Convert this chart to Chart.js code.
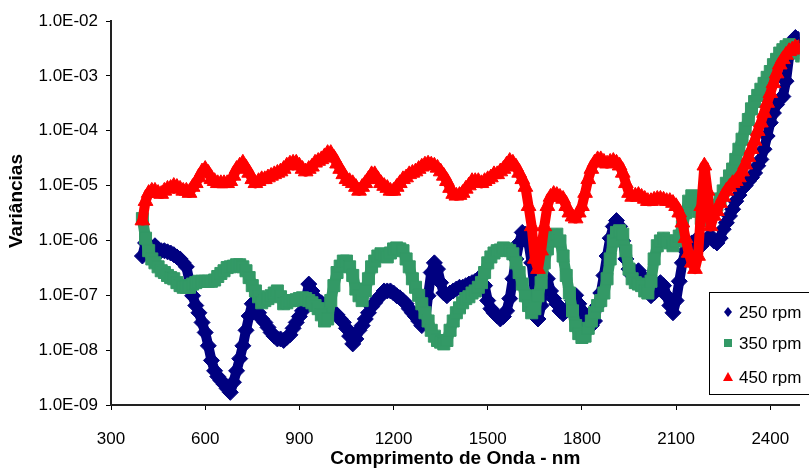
<!DOCTYPE html>
<html>
<head>
<meta charset="utf-8">
<title>Variâncias x Comprimento de Onda</title>
<script src="https://cdn.jsdelivr.net/npm/chart.js@4.4.1/dist/chart.umd.min.js"></script>
<style>
  html, body { margin: 0; padding: 0; background: #fff; }
  #wrap { width: 809px; height: 468px; }
</style>
</head>
<body>
<div id="wrap"><canvas id="varChart" width="809" height="468"></canvas></div>
<script>
// Wavelengths (nm), one reading every 10 nm
const wavelengthNm = [
    400, 410, 420, 430, 440, 450, 460, 470, 480, 490,
    500, 510, 520, 530, 540, 550, 560, 570, 580, 590,
    600, 610, 620, 630, 640, 650, 660, 670, 680, 690,
    700, 710, 720, 730, 740, 750, 760, 770, 780, 790,
    800, 810, 820, 830, 840, 850, 860, 870, 880, 890,
    900, 910, 920, 930, 940, 950, 960, 970, 980, 990,
    1000, 1010, 1020, 1030, 1040, 1050, 1060, 1070, 1080, 1090,
    1100, 1110, 1120, 1130, 1140, 1150, 1160, 1170, 1180, 1190,
    1200, 1210, 1220, 1230, 1240, 1250, 1260, 1270, 1280, 1290,
    1300, 1310, 1320, 1330, 1340, 1350, 1360, 1370, 1380, 1390,
    1400, 1410, 1420, 1430, 1440, 1450, 1460, 1470, 1480, 1490,
    1500, 1510, 1520, 1530, 1540, 1550, 1560, 1570, 1580, 1590,
    1600, 1610, 1620, 1630, 1640, 1650, 1660, 1670, 1680, 1690,
    1700, 1710, 1720, 1730, 1740, 1750, 1760, 1770, 1780, 1790,
    1800, 1810, 1820, 1830, 1840, 1850, 1860, 1870, 1880, 1890,
    1900, 1910, 1920, 1930, 1940, 1950, 1960, 1970, 1980, 1990,
    2000, 2010, 2020, 2030, 2040, 2050, 2060, 2070, 2080, 2090,
    2100, 2110, 2120, 2130, 2140, 2150, 2160, 2170, 2180, 2190,
    2200, 2210, 2220, 2230, 2240, 2250, 2260, 2270, 2280, 2290,
    2300, 2310, 2320, 2330, 2340, 2350, 2360, 2370, 2380, 2390,
    2400, 2410, 2420, 2430, 2440, 2450, 2460, 2470, 2480, 2490,
    2500
];

// Variance at 250 rpm
const var250 = [
    5.2e-7, 9.0e-7, 8.0e-7, 7.3e-7, 8.0e-7, 7.0e-7, 6.5e-7, 6.5e-7, 6.2e-7, 5.9e-7,
    5.5e-7, 5.0e-7, 4.6e-7, 3.9e-7, 3.3e-7, 1.8e-7, 9.8e-8, 6.5e-8, 4.8e-8, 3.2e-8,
    2.1e-8, 1.2e-8, 6.5e-9, 4.2e-9, 3.3e-9, 2.8e-9, 2.4e-9, 2.0e-9, 1.7e-9, 2.6e-9,
    4.2e-9, 7.0e-9, 1.2e-8, 2.3e-8, 4.2e-8, 7.0e-8, 6.5e-8, 4.8e-8, 3.7e-8, 3.2e-8,
    2.6e-8, 2.1e-8, 1.8e-8, 1.6e-8, 1.6e-8, 1.5e-8, 1.7e-8, 1.9e-8, 2.5e-8, 3.2e-8,
    4.1e-8, 5.2e-8, 8.0e-8, 1.6e-7, 1.2e-7, 9.0e-8, 8.0e-8, 7.3e-8, 6.5e-8, 5.9e-8,
    5.2e-8, 4.8e-8, 4.4e-8, 3.7e-8, 3.2e-8, 2.5e-8, 1.8e-8, 1.3e-8, 1.6e-8, 2.3e-8,
    2.8e-8, 3.7e-8, 4.8e-8, 6.2e-8, 7.3e-8, 8.7e-8, 1.0e-7, 1.2e-7, 1.2e-7, 1.2e-7,
    1.1e-7, 9.8e-8, 9.0e-8, 8.0e-8, 7.0e-8, 5.7e-8, 4.8e-8, 4.1e-8, 3.4e-8, 2.8e-8,
    3.2e-8, 9.8e-8, 2.6e-7, 3.9e-7, 3.0e-7, 1.7e-7, 1.1e-7, 9.8e-8, 1.1e-7, 1.2e-7,
    1.3e-7, 1.4e-7, 1.4e-7, 1.5e-7, 1.6e-7, 1.7e-7, 1.8e-7, 2.0e-7, 2.1e-7, 1.5e-7,
    8.0e-8, 5.7e-8, 4.8e-8, 4.2e-8, 3.7e-8, 4.1e-8, 5.2e-8, 8.7e-8, 2.0e-7, 4.6e-7,
    9.0e-7, 1.4e-6, 1.3e-6, 9.0e-7, 3.9e-7, 1.1e-7, 3.7e-8, 6.5e-8, 1.8e-7, 2.0e-7,
    1.2e-7, 8.7e-8, 7.0e-8, 5.2e-8, 4.6e-8, 5.2e-8, 6.2e-8, 8.0e-8, 1.0e-7, 7.0e-8,
    5.2e-8, 3.7e-8, 2.8e-8, 2.8e-8, 3.4e-8, 6.5e-8, 1.1e-7, 2.3e-7, 5.2e-7, 1.1e-6,
    1.8e-6, 2.3e-6, 1.8e-6, 9.8e-7, 4.6e-7, 3.0e-7, 2.3e-7, 2.6e-7, 2.8e-7, 2.3e-7,
    1.7e-7, 1.2e-7, 9.8e-8, 1.1e-7, 1.5e-7, 1.7e-7, 1.5e-7, 9.8e-8, 6.5e-8, 4.8e-8,
    8.0e-8, 1.8e-7, 3.9e-7, 6.5e-7, 8.0e-7, 9.0e-7, 9.8e-7, 9.0e-7, 8.0e-7, 9.8e-7,
    1.1e-6, 1.2e-6, 9.8e-7, 9.0e-7, 1.1e-6, 1.6e-6, 2.1e-6, 2.8e-6, 3.7e-6, 5.2e-6,
    6.7e-6, 8.7e-6, 1.0e-5, 1.2e-5, 1.4e-5, 1.7e-5, 2.3e-5, 3.0e-5, 4.6e-5, 8.0e-5,
    1.4e-4, 2.1e-4, 3.0e-4, 3.7e-4, 4.2e-4, 8.0e-4, 2.3e-3, 4.2e-3, 5.0e-3, 4.6e-3,
    3.9e-3
];

// Variance at 350 rpm
const var350 = [
    2.5e-6, 1.1e-6, 6.5e-7, 4.6e-7, 3.9e-7, 3.3e-7, 2.8e-7, 2.6e-7, 2.3e-7, 2.1e-7,
    2.0e-7, 1.7e-7, 1.5e-7, 1.4e-7, 1.4e-7, 1.4e-7, 1.6e-7, 1.7e-7, 1.8e-7, 1.8e-7,
    1.8e-7, 1.8e-7, 1.8e-7, 1.9e-7, 2.2e-7, 2.5e-7, 2.8e-7, 3.2e-7, 3.3e-7, 3.4e-7,
    3.6e-7, 3.6e-7, 3.3e-7, 2.8e-7, 2.1e-7, 1.5e-7, 1.2e-7, 9.4e-8, 7.3e-8, 8.0e-8,
    8.7e-8, 9.8e-8, 1.1e-7, 1.2e-7, 9.4e-8, 7.0e-8, 7.3e-8, 8.0e-8, 8.0e-8, 8.3e-8,
    8.7e-8, 9.0e-8, 8.7e-8, 8.0e-8, 7.3e-8, 6.5e-8, 5.7e-8, 4.4e-8, 3.4e-8, 3.7e-8,
    8.0e-8, 1.5e-7, 2.6e-7, 3.4e-7, 4.2e-7, 4.2e-7, 3.3e-7, 2.3e-7, 1.3e-7, 9.8e-8,
    8.0e-8, 1.2e-7, 2.0e-7, 3.3e-7, 4.2e-7, 5.2e-7, 5.7e-7, 5.5e-7, 5.0e-7, 5.9e-7,
    7.0e-7, 7.3e-7, 7.0e-7, 6.5e-7, 4.6e-7, 3.3e-7, 2.0e-7, 1.4e-7, 1.0e-7, 7.0e-8,
    4.8e-8, 3.4e-8, 2.3e-8, 1.8e-8, 1.5e-8, 1.4e-8, 1.3e-8, 1.5e-8, 2.3e-8, 3.4e-8,
    4.8e-8, 5.9e-8, 7.3e-8, 8.7e-8, 9.4e-8, 1.1e-7, 1.2e-7, 1.4e-7, 1.7e-7, 2.6e-7,
    3.9e-7, 5.0e-7, 5.9e-7, 6.5e-7, 6.7e-7, 7.3e-7, 7.0e-7, 6.5e-7, 5.7e-7, 3.9e-7,
    2.6e-7, 1.6e-7, 9.8e-8, 6.5e-8, 4.8e-8, 5.7e-8, 9.8e-8, 1.7e-7, 3.9e-7, 7.0e-7,
    9.8e-7, 1.2e-6, 1.3e-6, 9.8e-7, 5.2e-7, 2.3e-7, 1.1e-7, 5.2e-8, 2.8e-8, 2.0e-8,
    1.7e-8, 1.8e-8, 2.5e-8, 3.4e-8, 4.8e-8, 6.5e-8, 8.0e-8, 1.1e-7, 2.0e-7, 4.6e-7,
    9.8e-7, 1.4e-6, 1.5e-6, 1.3e-6, 6.5e-7, 3.0e-7, 2.0e-7, 1.7e-7, 1.6e-7, 1.5e-7,
    1.2e-7, 1.1e-7, 1.8e-7, 4.6e-7, 8.0e-7, 9.8e-7, 1.1e-6, 9.8e-7, 9.0e-7, 8.0e-7,
    9.8e-7, 1.2e-6, 1.8e-6, 3.2e-6, 5.2e-6, 6.5e-6, 5.2e-6, 3.4e-6, 2.5e-6, 2.3e-6,
    2.8e-6, 3.2e-6, 3.7e-6, 4.4e-6, 5.7e-6, 8.0e-6, 1.1e-5, 1.5e-5, 2.0e-5, 3.0e-5,
    4.6e-5, 7.0e-5, 1.1e-4, 1.6e-4, 2.5e-4, 3.4e-4, 4.4e-4, 5.7e-4, 7.3e-4, 9.4e-4,
    1.2e-3, 1.6e-3, 2.0e-3, 2.6e-3, 3.0e-3, 3.4e-3, 3.7e-3, 3.4e-3, 3.0e-3, 2.6e-3,
    2.3e-3
];

// Variance at 450 rpm
const var450 = [
    2.3e-6, 5.2e-6, 7.3e-6, 8.0e-6, 8.0e-6, 7.3e-6, 7.0e-6, 8.0e-6, 8.7e-6, 9.0e-6,
    9.8e-6, 9.4e-6, 8.7e-6, 8.0e-6, 8.0e-6, 7.3e-6, 9.4e-6, 1.1e-5, 1.4e-5, 1.8e-5,
    2.0e-5, 1.7e-5, 1.3e-5, 1.2e-5, 1.1e-5, 1.1e-5, 1.1e-5, 1.1e-5, 1.2e-5, 1.5e-5,
    2.0e-5, 2.3e-5, 2.6e-5, 2.1e-5, 1.7e-5, 1.3e-5, 1.1e-5, 1.2e-5, 1.3e-5, 1.3e-5,
    1.4e-5, 1.5e-5, 1.6e-5, 1.7e-5, 1.8e-5, 2.0e-5, 2.3e-5, 2.5e-5, 2.6e-5, 2.6e-5,
    2.3e-5, 2.0e-5, 1.8e-5, 2.0e-5, 2.2e-5, 2.6e-5, 2.8e-5, 3.0e-5, 3.4e-5, 3.9e-5,
    3.9e-5, 3.2e-5, 2.5e-5, 2.0e-5, 1.6e-5, 1.3e-5, 1.2e-5, 1.1e-5, 9.4e-6, 8.0e-6,
    9.4e-6, 1.1e-5, 1.3e-5, 1.6e-5, 1.6e-5, 1.3e-5, 1.1e-5, 9.8e-6, 9.0e-6, 8.0e-6,
    8.0e-6, 9.4e-6, 1.1e-5, 1.3e-5, 1.4e-5, 1.6e-5, 1.7e-5, 1.8e-5, 2.0e-5, 2.2e-5,
    2.4e-5, 2.5e-5, 2.4e-5, 2.3e-5, 2.1e-5, 1.8e-5, 1.5e-5, 1.2e-5, 9.0e-6, 7.0e-6,
    6.5e-6, 6.7e-6, 7.3e-6, 8.7e-6, 1.0e-5, 1.2e-5, 1.2e-5, 1.2e-5, 1.1e-5, 1.2e-5,
    1.3e-5, 1.4e-5, 1.6e-5, 1.6e-5, 1.8e-5, 2.0e-5, 2.4e-5, 2.8e-5, 2.6e-5, 2.2e-5,
    1.7e-5, 1.3e-5, 9.4e-6, 4.2e-6, 1.8e-6, 4.6e-7, 3.0e-7, 6.5e-7, 1.8e-6, 4.2e-6,
    6.2e-6, 7.0e-6, 6.7e-6, 6.2e-6, 5.7e-6, 4.2e-6, 3.2e-6, 2.7e-6, 2.5e-6, 3.2e-6,
    4.2e-6, 7.3e-6, 1.3e-5, 2.0e-5, 2.6e-5, 3.0e-5, 3.0e-5, 2.7e-5, 2.5e-5, 2.7e-5,
    2.8e-5, 2.6e-5, 2.3e-5, 1.7e-5, 1.1e-5, 7.3e-6, 6.2e-6, 6.5e-6, 6.7e-6, 6.2e-6,
    5.7e-6, 5.2e-6, 5.2e-6, 5.5e-6, 5.7e-6, 5.7e-6, 5.5e-6, 5.2e-6, 5.2e-6, 4.8e-6,
    4.2e-6, 3.2e-6, 2.1e-6, 1.1e-6, 5.9e-7, 3.9e-7, 3.0e-7, 5.2e-7, 4.2e-6, 2.3e-5,
    8.0e-6, 1.8e-6, 2.8e-6, 3.4e-6, 4.8e-6, 6.2e-6, 8.0e-6, 9.4e-6, 1.1e-5, 1.2e-5,
    1.4e-5, 1.8e-5, 2.4e-5, 3.3e-5, 4.6e-5, 6.5e-5, 9.8e-5, 1.4e-4, 2.1e-4, 3.2e-4,
    4.8e-4, 7.3e-4, 1.1e-3, 1.6e-3, 2.0e-3, 2.4e-3, 2.8e-3, 3.0e-3, 3.3e-3, 3.2e-3,
    3.0e-3
];

const seriesLabels = ['250 rpm', '350 rpm', '450 rpm'];
const xTicks = [300, 600, 900, 1200, 1500, 1800, 2100, 2400];
const yTicks = [1e-9, 1e-8, 1e-7, 1e-6, 1e-5, 1e-4, 1e-3, 1e-2];
const yTickLabels = ['1.0E-09', '1.0E-08', '1.0E-07', '1.0E-06', '1.0E-05', '1.0E-04', '1.0E-03', '1.0E-02'];
const xTitle = 'Comprimento de Onda - nm';
const yTitle = 'Variâncias';

const FONT = "'Liberation Sans', Arial, sans-serif";

function toPoints(values) {
    return values.map((v, i) => ({ x: wavelengthNm[i], y: v }));
}

// Rotated y axis title, placed like the original
const yTitlePlugin = {
    id: 'yTitle',
    afterDraw(chart) {
        const ctx = chart.ctx;
        ctx.save();
        ctx.translate(17, 201);
        ctx.rotate(-Math.PI / 2);
        ctx.font = 'bold 19px ' + FONT;
        ctx.fillStyle = '#000';
        ctx.textAlign = 'center';
        ctx.textBaseline = 'middle';
        ctx.fillText(yTitle, 0, 0);
        ctx.restore();
    }
};

// Boxed legend inside the plot, bottom right
function drawMarker(ctx, style, x, y, color) {
    ctx.fillStyle = color;
    ctx.beginPath();
    if (style === 'rectRot') {
        ctx.moveTo(x, y - 5);
        ctx.lineTo(x + 4, y);
        ctx.lineTo(x, y + 5);
        ctx.lineTo(x - 4, y);
    } else if (style === 'rect') {
        ctx.rect(x - 4, y - 4, 8, 8);
    } else {
        ctx.moveTo(x, y - 5);
        ctx.lineTo(x + 5, y + 4);
        ctx.lineTo(x - 5, y + 4);
    }
    ctx.closePath();
    ctx.fill();
}

const boxLegend = {
    id: 'boxLegend',
    afterDraw(chart) {
        const ctx = chart.ctx;
        const left = 709, top = 292, height = 102;
        const rows = [312, 343, 377];
        ctx.save();
        ctx.fillStyle = '#fff';
        ctx.fillRect(left, top, 130, height);
        ctx.strokeStyle = '#000';
        ctx.lineWidth = 1;
        ctx.strokeRect(left + 0.5, top + 0.5, 130, height);
        ctx.font = '17px ' + FONT;
        ctx.textAlign = 'left';
        ctx.textBaseline = 'middle';
        chart.data.datasets.forEach((ds, i) => {
            drawMarker(ctx, ds.pointStyle, 728, rows[i], ds.pointBackgroundColor);
            ctx.fillStyle = '#000';
            ctx.fillText(ds.label, 739, rows[i] + 1);
        });
        ctx.restore();
    }
};

// Dense markers in the original merge into a solid band; a thick line of
// the same colour under the markers gives the same look
function series(label, values, style, radius, band, color, order) {
    return {
        label: label,
        data: toPoints(values),
        showLine: true,
        borderColor: color,
        borderWidth: band,
        borderJoinStyle: 'round',
        borderCapStyle: 'round',
        pointStyle: style,
        pointRadius: radius,
        pointBackgroundColor: color,
        pointBorderColor: color,
        pointBorderWidth: 1,
        order: order
    };
}

const ctx = document.getElementById('varChart').getContext('2d');

new Chart(ctx, {
    type: 'scatter',
    data: {
        datasets: [
            series(seriesLabels[0], var250, 'rectRot', 8, 10, '#000080', 3),
            series(seriesLabels[1], var350, 'rect', 8.5, 11, '#339966', 2),
            series(seriesLabels[2], var450, 'triangle', 8.5, 10, '#ff0000', 1)
        ]
    },
    options: {
        responsive: false,
        animation: false,
        events: [],
        layout: { padding: { top: 21, right: 0, bottom: 0, left: 0 } },
        plugins: {
            legend: { display: false },
            tooltip: { enabled: false }
        },
        scales: {
            x: {
                type: 'linear',
                min: 300,
                max: 2493,
                afterBuildTicks: s => { s.ticks = xTicks.map(v => ({ value: v })); },
                afterFit: s => { s.height = 63; },
                grid: { drawOnChartArea: false, drawTicks: true, tickLength: 5, color: '#000', lineWidth: 1 },
                border: { display: true, color: '#222', width: 2 },
                ticks: {
                    font: { family: FONT, size: 17 },
                    color: '#000',
                    padding: 19,
                    maxRotation: 0,
                    autoSkip: false,
                    callback: value => String(value)
                },
                title: {
                    display: true,
                    text: xTitle,
                    color: '#000',
                    font: { family: FONT, size: 19, weight: 'bold', lineHeight: 1 },
                    padding: 0
                }
            },
            y: {
                type: 'logarithmic',
                min: 1e-9,
                max: 1e-2,
                afterBuildTicks: s => { s.ticks = yTicks.map(v => ({ value: v })); },
                afterFit: s => { s.width = 111; },
                grid: { drawOnChartArea: false, drawTicks: true, tickLength: 5, color: '#000', lineWidth: 1 },
                border: { display: true, color: '#222', width: 2 },
                ticks: {
                    font: { family: FONT, size: 17 },
                    color: '#000',
                    padding: 8,
                    autoSkip: false,
                    callback: (value, index) => yTickLabels[index]
                }
            }
        }
    },
    plugins: [yTitlePlugin, boxLegend]
});
</script>
</body>
</html>
